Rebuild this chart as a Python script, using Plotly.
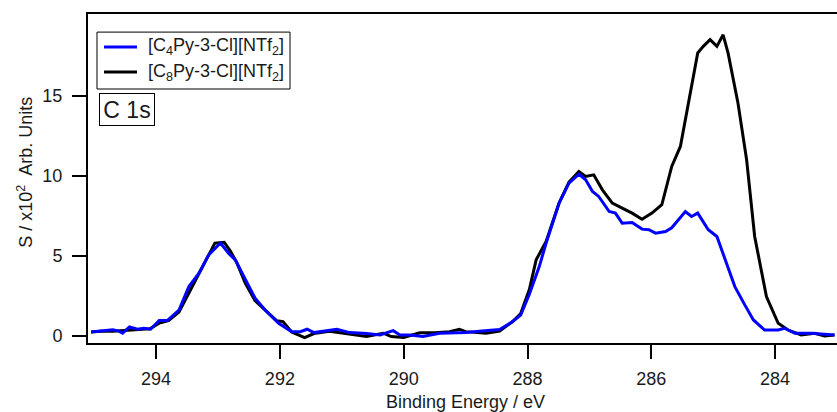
import plotly.graph_objects as go

# C 1s XPS spectra (S / x10^2 Arb. Units vs Binding Energy / eV)
energy_c4 = [295.05, 294.9, 294.8, 294.7, 294.6, 294.54, 294.43, 294.3, 294.2, 294.09,
             293.95, 293.82, 293.63, 293.47, 293.31, 293.15, 292.96, 292.83, 292.72, 292.56,
             292.40, 292.24, 292.02, 291.81, 291.67, 291.56, 291.45, 291.08, 290.87, 290.6,
             290.38, 290.17, 290.06, 289.9, 289.69, 289.42, 289.2, 288.99, 288.78, 288.45,
             288.24, 288.11, 287.97, 287.81, 287.70, 287.60, 287.49, 287.33, 287.17, 287.06,
             286.95, 286.85, 286.68, 286.58, 286.47, 286.31, 286.15, 286.04, 285.93, 285.77,
             285.67, 285.45, 285.35, 285.25, 285.08, 284.94, 284.81, 284.65, 284.49, 284.35,
             284.17, 283.95, 283.85, 283.68, 283.42, 283.04]
signal_c4 = [0.25, 0.3, 0.3, 0.38, 0.3, 0.17, 0.56, 0.42, 0.48, 0.42,
             0.96, 0.96, 1.62, 3.08, 3.9, 5.06, 5.8, 5.17, 4.75, 3.5,
             2.35, 1.62, 0.79, 0.27, 0.27, 0.42, 0.21, 0.42, 0.21, 0.15,
             0.06, 0.33, 0.06, 0.06, -0.04, 0.17, 0.2, 0.21, 0.3, 0.4,
             0.9, 1.3, 2.6, 4.33, 5.79, 7.04, 8.29, 9.54, 10.1, 9.75,
             9.02, 8.71, 7.77, 7.67, 7.04, 7.08, 6.67, 6.63, 6.42, 6.52,
             6.75, 7.77, 7.46, 7.67, 6.63, 6.21, 4.75, 3.08, 1.94, 1.0,
             0.37, 0.37, 0.48, 0.17, 0.17, 0.06]

energy_c8 = [295.05, 294.9, 294.7, 294.5, 294.3, 294.1, 293.95, 293.8, 293.63, 293.47,
             293.31, 293.15, 293.05, 292.9, 292.8, 292.7, 292.56, 292.40, 292.24, 292.05,
             291.95, 291.81, 291.6, 291.45, 291.2, 291.0, 290.8, 290.6, 290.33, 290.2,
             290.0, 289.74, 289.5, 289.26, 289.1, 289.0, 288.67, 288.45, 288.24, 288.11,
             287.97, 287.86, 287.70, 287.60, 287.49, 287.33, 287.17, 287.06, 286.93, 286.79,
             286.63, 286.47, 286.31, 286.15, 285.99, 285.83, 285.67, 285.53, 285.37, 285.25,
             285.16, 285.05, 284.94, 284.84, 284.76, 284.6, 284.46, 284.33, 284.14, 283.95,
             283.79, 283.58, 283.36, 283.2, 283.04]
signal_c8 = [0.25, 0.3, 0.3, 0.35, 0.4, 0.45, 0.8, 0.95, 1.5, 2.7,
             3.9, 5.0, 5.8, 5.85, 5.3, 4.6, 3.3, 2.2, 1.6, 0.95,
             0.9, 0.25, -0.1, 0.15, 0.3, 0.2, 0.1, -0.04, 0.17, -0.04,
             -0.1, 0.2, 0.2, 0.27, 0.42, 0.27, 0.17, 0.3, 0.9, 1.4,
             2.9, 4.75, 5.9, 7.1, 8.3, 9.6, 10.27, 9.96, 10.06, 9.12,
             8.29, 7.98, 7.67, 7.29, 7.67, 8.19, 10.58, 11.83, 15.17, 17.67,
             18.08, 18.5, 18.08, 18.8, 17.67, 14.54, 11.0, 6.21, 2.46, 0.79,
             0.37, 0.06, 0.17, 0.0, 0.06]

series_names = ["[C<sub>4</sub>Py-3-Cl][NTf<sub>2</sub>]",
                "[C<sub>8</sub>Py-3-Cl][NTf<sub>2</sub>]"]
series_colors = ["#0000ff", "#000000"]

x_ticks = [294, 292, 290, 288, 286, 284]
y_ticks = [0, 5, 10, 15]

FONT = "Liberation Sans, Arial, sans-serif"
TXT = "#1a1a1a"

fig = go.Figure()
fig.add_trace(go.Scatter(x=energy_c8, y=signal_c8, mode="lines",
                         name=series_names[1], showlegend=False,
                         line=dict(color=series_colors[1], width=3)))
fig.add_trace(go.Scatter(x=energy_c4, y=signal_c4, mode="lines",
                         name=series_names[0], showlegend=False,
                         line=dict(color=series_colors[0], width=3)))

fig.update_layout(
    width=837, height=412,
    margin=dict(l=88, r=0, t=14, b=69),
    paper_bgcolor="white", plot_bgcolor="white",
    font=dict(family=FONT, size=18, color=TXT),
    showlegend=False,
    xaxis=dict(range=[295.1, 283.0], tickvals=x_ticks,
               ticktext=[str(v) for v in x_ticks],
               showgrid=False, zeroline=False,
               showline=True, linecolor="#000000", linewidth=2, mirror=True,
               ticks="outside", ticklen=14, tickwidth=2, tickcolor="#000000",
               tickfont=dict(size=18, color=TXT), ticklabelstandoff=4),
    yaxis=dict(range=[-0.44, 20.1], tickvals=y_ticks,
               ticktext=[str(v) for v in y_ticks],
               showgrid=False, zeroline=False,
               showline=True, linecolor="#000000", linewidth=2, mirror=False,
               ticks="outside", ticklen=14, tickwidth=2, tickcolor="#000000",
               tickfont=dict(size=18, color=TXT), ticklabelstandoff=6),
)

# Legend (box, line samples, labels) in paper coordinates
fig.add_shape(type="rect", xref="paper", yref="paper",
              x0=0.012, x1=0.2697, y0=0.772, y1=0.945,
              line=dict(color="#000000", width=1), fillcolor="white", layer="above")
legend_y = [0.8997, 0.8237]
for name, color, ly in zip(series_names, series_colors, legend_y):
    fig.add_shape(type="line", xref="paper", yref="paper",
                  x0=0.0214, x1=0.0654, y0=ly, y1=ly,
                  line=dict(color=color, width=3), layer="above")
    fig.add_annotation(text=name, xref="paper", yref="paper",
                       x=0.0774, y=ly, xanchor="left", yanchor="middle",
                       showarrow=False, font=dict(size=18, color=TXT))

fig.add_annotation(text="Binding Energy / eV", xref="paper", yref="paper",
                   x=0.504, y=-0.179, xanchor="center", yanchor="middle",
                   showarrow=False, font=dict(size=18, color=TXT))
fig.add_annotation(text="S / x10<sup>2</sup>  Arb. Units", xref="paper", yref="paper",
                   x=-0.083, y=0.52, xanchor="center", yanchor="middle",
                   textangle=-90, showarrow=False, font=dict(size=18, color=TXT))
fig.add_annotation(text="C 1s", xref="paper", yref="paper",
                   x=0.0147, y=0.76, xanchor="left", yanchor="top",
                   showarrow=False, font=dict(size=23, color=TXT),
                   bordercolor="#000000", borderwidth=1, borderpad=1,
                   bgcolor="white", width=52, height=29)

fig.write_html("out.html", config={"displayModeBar": False},
               post_script="document.body.style.margin='0';")
